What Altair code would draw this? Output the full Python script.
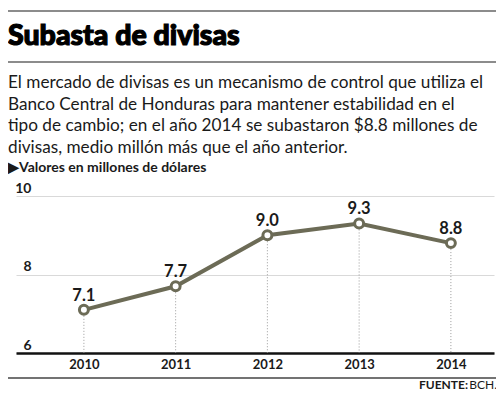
import altair as alt
import pandas as pd

years = [2010, 2011, 2012, 2013, 2014]
values = [7.1, 7.7, 9.0, 9.3, 8.8]
y_ticks = [6, 8, 10]

title_text = "Subasta de divisas"
body_lines = [
    "El mercado de divisas es un mecanismo de control que utiliza el",
    "Banco Central de Honduras para mantener estabilidad en el",
    "tipo de cambio; en el año 2014 se subastaron $8.8 millones de",
    "divisas, medio millón más que el año anterior.",
]
subtitle_text = "▶Valores en millones de dólares"
source_label = "FUENTE:"
source_name = "BCH."

df = pd.DataFrame({"year": years, "value": values})

FONT = "Lato"
LINE = "#6c6b56"
INK = "#1a1a1a"

x = alt.X("year:Q", scale=alt.Scale(domain=[2009.26, 2014.47], nice=False, zero=False),
          axis=alt.Axis(values=years, format="d", title=None, grid=False, ticks=False,
                        domainColor="#111111", domainWidth=2.5, labelFont=FONT,
                        labelFontSize=13, labelFontWeight="bold", labelColor=INK,
                        labelPadding=5))
y = alt.Y("value:Q", scale=alt.Scale(domain=[6, 10], nice=False, zero=False),
          axis=alt.Axis(values=y_ticks, title=None, domain=False, ticks=False,
                        gridColor="#d9d9d9", gridWidth=1, labelFont=FONT,
                        labelFontSize=14, labelFontWeight="bold", labelColor=INK,
                        labelAlign="right", labelBaseline="alphabetic",
                        labelPadding=-15, labelOffset=-4))

base = alt.Chart(df)

drops = base.mark_rule(color="#9a9a9a", strokeDash=[1, 2], strokeWidth=1).encode(
    x=x, y=y, y2=alt.datum(6)
)
line = base.mark_line(color=LINE, strokeWidth=4).encode(x=x, y=y)
points = base.mark_point(shape="circle", filled=True, fill="white", stroke=LINE,
                         strokeWidth=3, size=80, opacity=1).encode(x=x, y=y)
labels = base.mark_text(dy=-14, font=FONT, fontSize=16.5, fontWeight="bold", color=INK).encode(
    x=x, y=y, text=alt.Text("value:Q", format=".1f")
)

# header and footer, placed in pixels relative to the plot area
deco = alt.Chart(pd.DataFrame({"k": [0]}))
rule_top = deco.mark_rule(color="#666666", strokeWidth=1.5).encode(
    x=alt.value(-8), x2=alt.value(490), y=alt.value(-185))
title = deco.mark_text(align="left", baseline="alphabetic", font=FONT, fontSize=28.5,
                       fontWeight=900, color="#000000", stroke="#000000",
                       strokeWidth=1.2).encode(
    x=alt.value(-8), y=alt.value(-151), text=alt.value(title_text))
rule_mid = deco.mark_rule(color="#666666", strokeWidth=1.5).encode(
    x=alt.value(-8), x2=alt.value(490), y=alt.value(-134))
body = deco.mark_text(align="left", baseline="alphabetic", font=FONT, fontSize=17.2,
                      lineHeight=21.7, color=INK).encode(
    x=alt.value(-8), y=alt.value(-108), text=alt.value(body_lines))
subtitle = deco.mark_text(align="left", baseline="alphabetic", font=FONT, fontSize=14,
                          fontWeight="bold", color=INK).encode(
    x=alt.value(-8), y=alt.value(-24), text=alt.value(subtitle_text))
rule_bot = deco.mark_rule(color="#444444", strokeWidth=1.5).encode(
    x=alt.value(-8), x2=alt.value(490), y=alt.value(182))
src_a = deco.mark_text(align="right", baseline="alphabetic", font=FONT, fontSize=12,
                       fontWeight="bold", color=INK).encode(
    x=alt.value(452), y=alt.value(193), text=alt.value(source_label))
src_b = deco.mark_text(align="right", baseline="alphabetic", font=FONT, fontSize=12,
                       color=INK).encode(
    x=alt.value(481), y=alt.value(193), text=alt.value(source_name))

chart = alt.layer(
    drops, line, points, labels,
    rule_top, title, rule_mid, body, subtitle, rule_bot, src_a, src_b
).properties(
    width=478,
    height=157,
    padding={"left": 8, "top": 188, "right": 2, "bottom": 39},
    autosize=alt.AutoSizeParams(type="none"),
).configure_view(
    stroke=None
)

chart.save("out.html", embed_options={"renderer": "svg", "actions": False})
